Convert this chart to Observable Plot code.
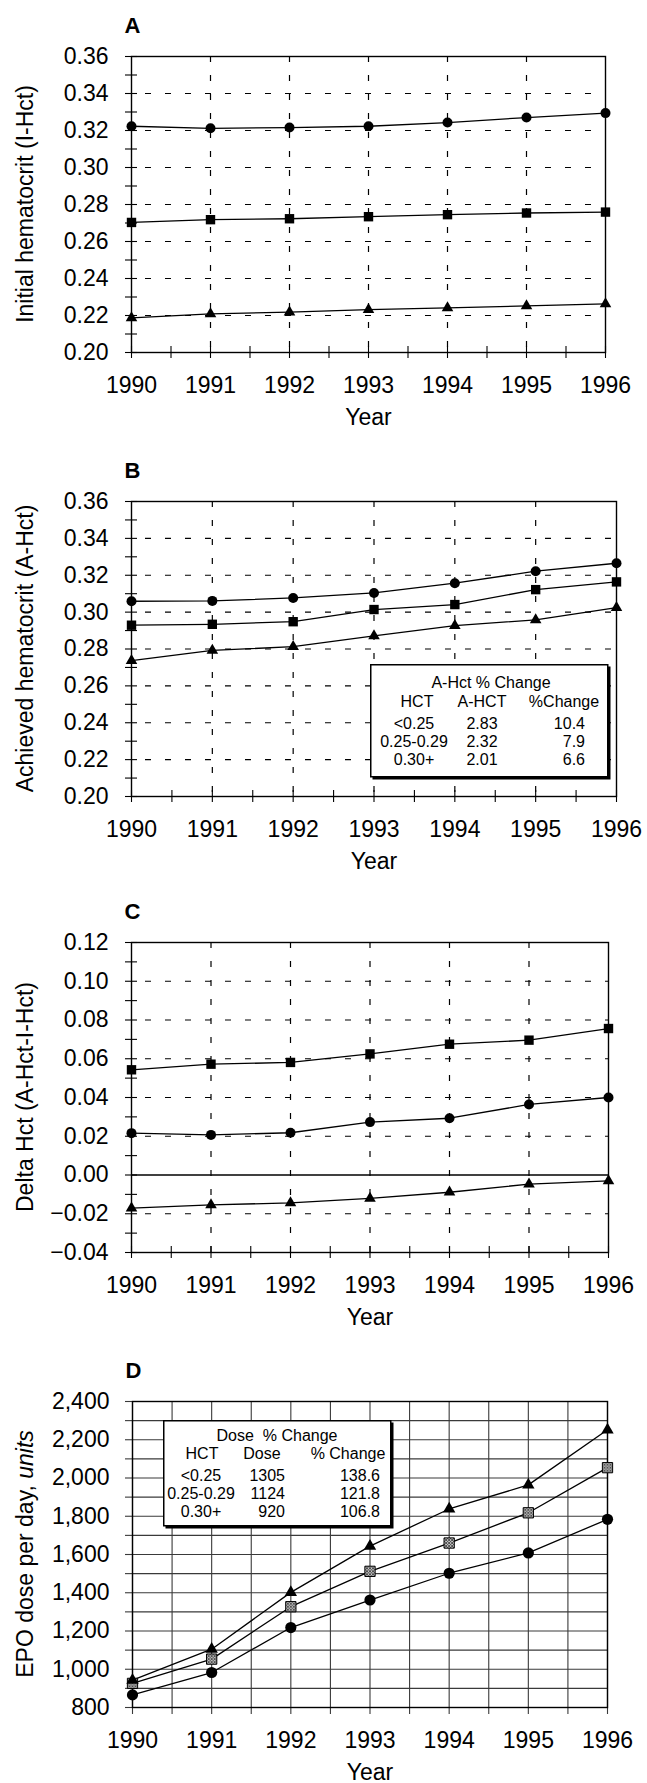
<!DOCTYPE html>
<html>
<head>
<meta charset="utf-8">
<script src="https://cdn.jsdelivr.net/npm/d3@7"></script>
<script src="https://cdn.jsdelivr.net/npm/@observablehq/plot@0.6"></script>
<style>
  body { margin: 0; background: #fff; }
  #root { position: relative; width: 647px; height: 1783px; overflow: hidden; background: #fff;
          font-family: "Liberation Sans", Arial, Helvetica, sans-serif; }
  #root > svg { display: block; }
  .legend { position: absolute; }
</style>
</head>
<body>
<div id="root"></div>
<script>
// ---------- DATA ----------
const years = [1990, 1991, 1992, 1993, 1994, 1995, 1996];

// Panel A: Initial hematocrit
const aCircle   = [0.3223, 0.3212, 0.3216, 0.3223, 0.3243, 0.3270, 0.3294];
const aSquare   = [0.2703, 0.2718, 0.2723, 0.2734, 0.2745, 0.2754, 0.2759];
const aTriangle = [0.2187, 0.2209, 0.2218, 0.2232, 0.2241, 0.2252, 0.2263];

// Panel B: Achieved hematocrit
const bCircle   = [0.3059, 0.3061, 0.3077, 0.3104, 0.3157, 0.3222, 0.3265];
const bSquare   = [0.2929, 0.2934, 0.2948, 0.3014, 0.3041, 0.3122, 0.3164];
const bTriangle = [0.2737, 0.2792, 0.2813, 0.2871, 0.2927, 0.2958, 0.3024];

// Panel C: Delta Hct
const cSquare   = [0.0543, 0.0572, 0.0581, 0.0625, 0.0675, 0.0696, 0.0756];
const cCircle   = [0.0216, 0.0207, 0.0218, 0.0273, 0.0293, 0.0364, 0.0400];
const cTriangle = [-0.0171, -0.0154, -0.0144, -0.0121, -0.0089, -0.0047, -0.0030];

// Panel D: EPO dose
const dTriangle = [943, 1105, 1402, 1644, 1838, 1964, 2252];
const dSquare   = [926, 1053, 1327, 1512, 1660, 1818, 2054];
const dCircle   = [866, 983, 1218, 1362, 1502, 1608, 1784];

// Axis ticks
const hctTicks   = [0.20, 0.22, 0.24, 0.26, 0.28, 0.30, 0.32, 0.34, 0.36];
const deltaTicks = [-0.04, -0.02, 0.00, 0.02, 0.04, 0.06, 0.08, 0.10, 0.12];
const doseTicks  = [800, 1000, 1200, 1400, 1600, 1800, 2000, 2200, 2400];

// Titles
const panelLabels = ["A", "B", "C", "D"];
const yTitles = ["Initial hematocrit (I-Hct)", "Achieved hematocrit (A-Hct)", "Delta Hct (A-Hct-I-Hct)", "EPO dose per day, units"];
const xTitle = "Year";

// Legend tables
const legendBTitle = "A-Hct % Change";
const legendBHeader = ["HCT", "A-HCT", "%Change"];
const legendBRows = [["<0.25", "2.83", "10.4"], ["0.25-0.29", "2.32", "7.9"], ["0.30+", "2.01", "6.6"]];
const legendDTitle = "Dose  % Change";
const legendDHeader = ["HCT", "Dose", "% Change"];
const legendDRows = [["<0.25", "1305", "138.6"], ["0.25-0.29", "1124", "121.8"], ["0.30+", "920", "106.8"]];

// ---------- HELPERS ----------
const FONT = '"Liberation Sans", Arial, Helvetica, sans-serif';
const halfYears = d3.range(1990, 1996.001, 0.5);
function toRows(series) {
  const out = [];
  for (const [name, vals] of series) years.forEach((y, i) => out.push({series: name, year: y, value: vals[i]}));
  return out;
}
function step(ticks, k) { // minor tick values between majors
  const out = [];
  for (let i = 0; i < ticks.length - 1; i++) {
    const a = ticks[i], b = ticks[i + 1];
    for (let j = 0; j <= k; j++) out.push(+(a + (b - a) * j / k).toFixed(6));
  }
  return Array.from(new Set(out));
}

function panel(cfg) {
  const {height, mt, mb, ml, mr, ticks, fmt, rows, label, yTitle, dashed, inner, zero, big} = cfg;
  const width = 647;
  const plotW = width - ml - mr, plotH = height - mt - mb;
  const marks = [];
  if (dashed) {
    marks.push(Plot.gridY(inner, {stroke: "black", strokeOpacity: 1, strokeWidth: 1.2, strokeDasharray: "6,14", strokeDashoffset: 6}));
    marks.push(Plot.gridX(years.slice(1, -1), {stroke: "black", strokeOpacity: 1, strokeWidth: 1.2, strokeDasharray: "6,13"}));
    marks.push(Plot.tickY(step(ticks, 2), {y: d => d, stroke: "black", strokeWidth: 1.1, insetLeft: -6, insetRight: plotW - 6}));
    marks.push(Plot.tickX(halfYears, {x: d => d, stroke: "black", strokeWidth: 1.1, insetTop: plotH - 6, insetBottom: -6}));
  } else {
    const minor = step(ticks, 2);
    marks.push(Plot.gridY(minor, {stroke: "#3a3a3a", strokeOpacity: 1, strokeWidth: 1.1}));
    marks.push(Plot.gridX(halfYears, {stroke: "#3a3a3a", strokeOpacity: 1, strokeWidth: 1.1}));
    marks.push(Plot.tickY(minor, {y: d => d, stroke: "#3a3a3a", strokeWidth: 1.1, insetLeft: -7, insetRight: plotW}));
    marks.push(Plot.tickX(halfYears, {x: d => d, stroke: "#3a3a3a", strokeWidth: 1.1, insetTop: plotH, insetBottom: -7}));
  }
  if (zero) marks.push(Plot.ruleY([0], {stroke: "black", strokeWidth: 1.3}));
  marks.push(Plot.frame({stroke: "black", strokeWidth: 1.4}));
  marks.push(Plot.axisY(ticks, {tickSize: 0, tickPadding: 23, tickFormat: fmt, fontSize: 23, label: null}));
  marks.push(Plot.axisX(years, {tickSize: 0, tickPadding: 24, tickFormat: d3.format("d"), fontSize: 23, label: null}));
  marks.push(Plot.line(rows, {x: "year", y: "value", z: "series", stroke: "black", strokeWidth: 1.3}));
  marks.push(Plot.dot(rows.filter(d => d.series === "circle"), {x: "year", y: "value", symbol: "circle", r: big ? 5.6 : 5, fill: "black"}));
  marks.push(Plot.dot(rows.filter(d => d.series === "square"), {x: "year", y: "value", symbol: "square", r: big ? 5.8 : 5.3,
    fill: big ? "#999999" : "black", stroke: big ? "black" : "none", strokeWidth: 1}));
  marks.push(Plot.dot(rows.filter(d => d.series === "triangle"), {x: "year", y: "value", symbol: "triangle", r: big ? 4.6 : 4.3, fill: "black"}));
  marks.push(Plot.text([label], {frameAnchor: "top-left", dx: -7, dy: -24, textAnchor: "start", lineAnchor: "bottom",
    fontWeight: "bold", fontSize: 22, fill: "black"}));
  marks.push(Plot.text([xTitle], {frameAnchor: "bottom", dy: 72, fontSize: 23, lineAnchor: "bottom", fill: "black"}));

  const svg = Plot.plot({
    width, height,
    marginTop: mt, marginBottom: mb, marginLeft: ml, marginRight: mr,
    x: {domain: [1990, 1996], axis: null},
    y: {domain: [ticks[0], ticks[ticks.length - 1]], axis: null},
    style: {fontFamily: FONT, fontSize: "23px", background: "white", color: "black", overflow: "visible"},
    marks
  });
  // rotated y-axis title, centred on the frame
  const t = d3.select(svg).append("text")
    .attr("transform", `translate(25,${mt + plotH / 2}) rotate(-90)`)
    .attr("text-anchor", "middle").attr("dy", "0.35em")
    .attr("font-size", 23).attr("fill", "black");
  const m = yTitle.match(/^(.*, )(units)$/);
  if (m) { t.append("tspan").text(m[1]); t.append("tspan").attr("font-style", "italic").text(m[2]); }
  else t.text(yTitle);
  return svg;
}

function legendBox(parent, {left, top, w, h, title, header, rows, titleX, titleY, headY, rowY, hx, rx, ralign, fontSize}) {
  const svg = d3.select(parent).append("svg").attr("class", "legend")
    .style("left", left + "px").style("top", top + "px")
    .attr("width", w + 4).attr("height", h + 4)
    .style("font-family", FONT).style("font-size", fontSize + "px");
  svg.append("rect").attr("x", 2.5).attr("y", 2.5).attr("width", w).attr("height", h).attr("fill", "black");
  svg.append("rect").attr("x", 0.75).attr("y", 0.75).attr("width", w - 1).attr("height", h - 1)
    .attr("fill", "white").attr("stroke", "black").attr("stroke-width", 1.5);
  svg.append("text").attr("x", titleX).attr("y", titleY).attr("text-anchor", "middle")
    .style("white-space", "pre").text(title);
  header.forEach((t, i) => svg.append("text").attr("x", hx[i]).attr("y", headY).attr("text-anchor", "middle").text(t));
  rows.forEach((row, j) => row.forEach((t, i) =>
    svg.append("text").attr("x", rx[i]).attr("y", rowY[j]).attr("text-anchor", ralign[i]).text(t)));
}

// ---------- BUILD ----------
const root = document.getElementById("root");

const pA = panel({height: 446, mt: 56, mb: 94, ml: 131, mr: 42, ticks: hctTicks, fmt: d3.format(".2f"),
  rows: toRows([["circle", aCircle], ["square", aSquare], ["triangle", aTriangle]]),
  label: panelLabels[0], yTitle: yTitles[0], dashed: true, inner: hctTicks.slice(1, -1)});
const pB = panel({height: 440, mt: 55, mb: 90, ml: 131, mr: 31, ticks: hctTicks, fmt: d3.format(".2f"),
  rows: toRows([["circle", bCircle], ["square", bSquare], ["triangle", bTriangle]]),
  label: panelLabels[1], yTitle: yTitles[1], dashed: true, inner: hctTicks.slice(1, -1)});
const pC = panel({height: 444, mt: 56, mb: 78, ml: 131, mr: 39, ticks: deltaTicks, fmt: d3.format(".2f"),
  rows: toRows([["square", cSquare], ["circle", cCircle], ["triangle", cTriangle]]),
  label: panelLabels[2], yTitle: yTitles[2], dashed: true, inner: deltaTicks.slice(1, -1).filter(d => d !== 0), zero: true});
const pD = panel({height: 453, mt: 71, mb: 76, ml: 132, mr: 40, ticks: doseTicks, fmt: d3.format(","),
  rows: toRows([["triangle", dTriangle], ["square", dSquare], ["circle", dCircle]]),
  label: panelLabels[3], yTitle: yTitles[3], dashed: false, big: true});

for (const p of [pA, pB, pC, pD]) root.appendChild(p);

// hatched fill for panel D squares
{
  const s = d3.select(pD);
  const defs = s.insert("defs", ":first-child");
  const pat = defs.append("pattern").attr("id", "xhatch").attr("patternUnits", "userSpaceOnUse").attr("width", 3).attr("height", 3);
  pat.append("rect").attr("width", 3).attr("height", 3).attr("fill", "#c8c8c8");
  pat.append("path").attr("d", "M0,0L3,3M3,0L0,3").attr("stroke", "#333").attr("stroke-width", 0.8);
  s.selectAll('g[fill="#999999"]').attr("fill", "url(#xhatch)");
}

legendBox(root, {left: 370, top: 664, w: 238, h: 113, title: legendBTitle, header: legendBHeader, rows: legendBRows,
  titleX: 121, titleY: 24, headY: 43, rowY: [65, 83, 101], hx: [47, 112, 194], rx: [44, 112, 215],
  ralign: ["middle", "middle", "end"], fontSize: 16});
legendBox(root, {left: 163, top: 1420, w: 228, h: 106, title: legendDTitle, header: legendDHeader, rows: legendDRows,
  titleX: 114, titleY: 21, headY: 39, rowY: [61, 79, 97], hx: [39, 99, 185], rx: [38, 122, 217],
  ralign: ["middle", "end", "end"], fontSize: 16});
</script>
</body>
</html>
